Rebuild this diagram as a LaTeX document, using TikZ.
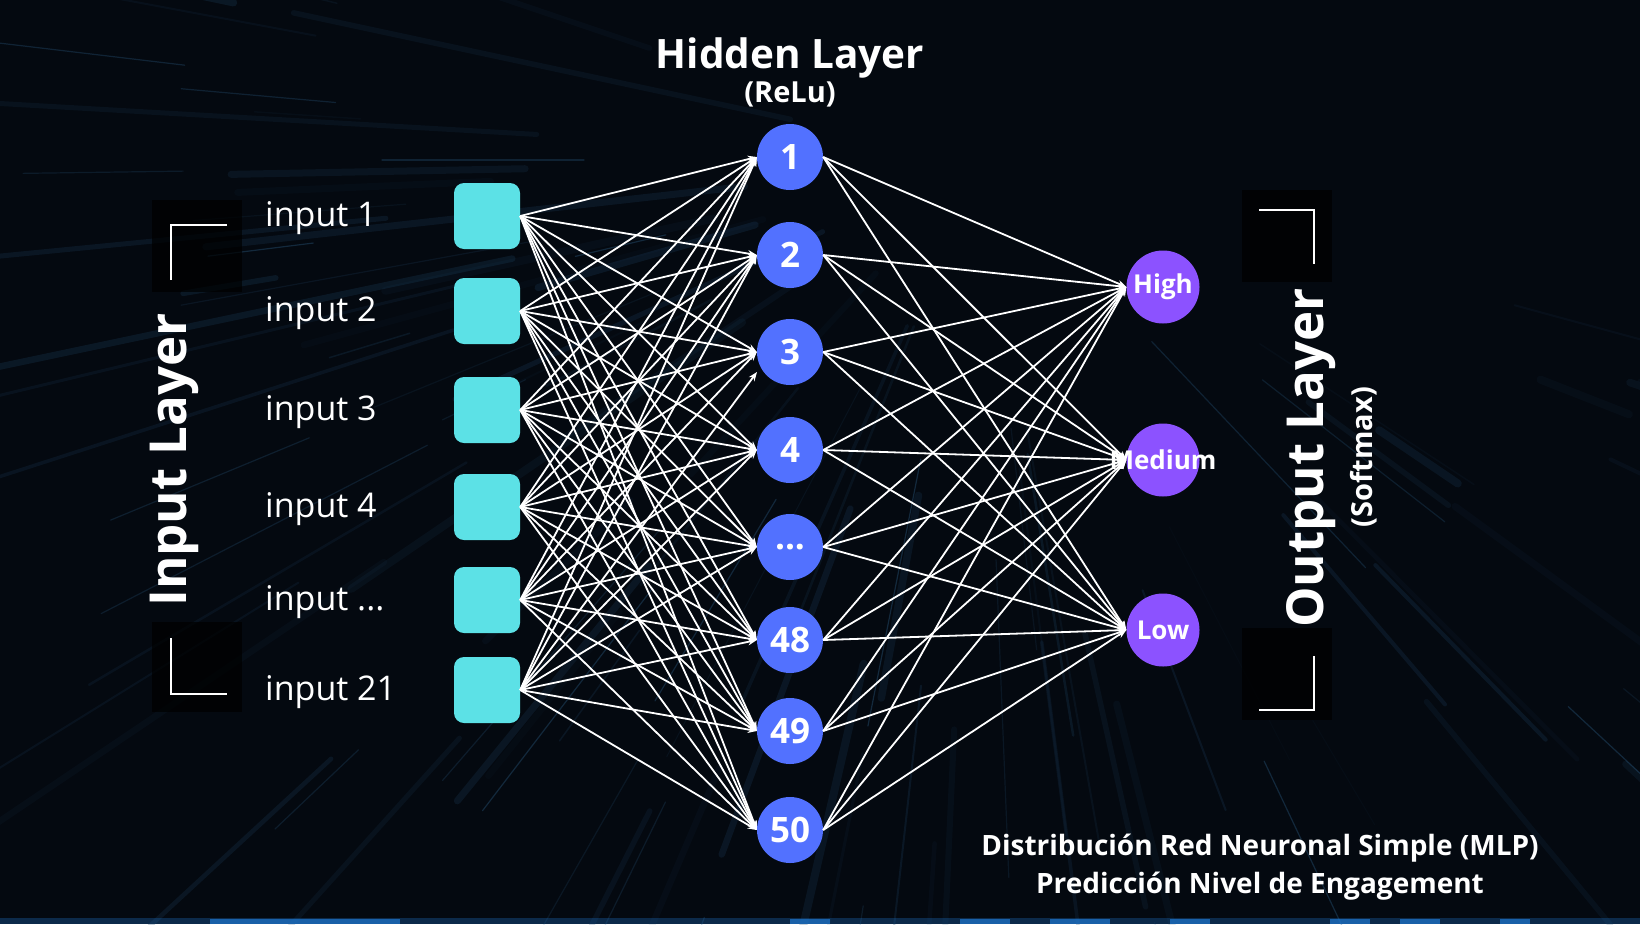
\documentclass[tikz,border=0pt]{standalone}
\usepackage{fontspec}
\setmainfont{Open Sans}
\usetikzlibrary{arrows.meta}
\definecolor{bgc}{HTML}{040910}
\definecolor{incol}{HTML}{5CE1E6}
\definecolor{hidcol}{HTML}{5271FF}
\definecolor{outcol}{HTML}{8C52FF}
\definecolor{streakA}{HTML}{1C3F5E}
\definecolor{streakB}{HTML}{2F6590}
\definecolor{glow}{HTML}{1F78D1}
\newcommand\mydots{...}
\begin{document}
\begin{tikzpicture}[x=1pt,y=-1pt,
  insq/.style={fill=incol, rounded corners=10pt, minimum width=66pt, minimum height=66pt, inner sep=0pt},
  hid/.style={circle, fill=hidcol, minimum size=66pt, inner sep=0pt, text=white, font=\bfseries\fontsize{35}{35}\selectfont},
  outn/.style={circle, fill=outcol, minimum size=73pt, inner sep=0pt},
  outlab/.style={text=white, inner sep=0pt, font=\bfseries\fontsize{26}{26}\selectfont},
  inlab/.style={text=white, font=\fontsize{34}{40}\selectfont, anchor=west, inner sep=0pt},
  conn/.style={draw=white, line width=1.8pt, -{Stealth[length=9pt,width=7pt]}},
  brk/.style={draw=white, line width=1.6pt},
  ttl/.style={text=white, inner sep=0pt},
  streak/.style={line cap=round}
]
% background
\fill[bgc] (0,0) rectangle (1640,924);
\useasboundingbox (0,0) rectangle (1640,924);
\begin{scope}
\clip (0,0) rectangle (1640,924);
\pgfmathsetseed{12}
\foreach \k in {1,...,80}{
  \pgfmathsetmacro{\ang}{random(150,2000)/10}
  \pgfmathsetmacro{\ra}{random(150,900)}
  \pgfmathsetmacro{\rb}{\ra+random(80,600)}
  \pgfmathsetmacro{\wd}{random(2,16)/2}
  \pgfmathsetmacro{\op}{random(6,28)/100}
  \draw[streak, draw=streakA, line width=\wd pt, opacity=\op, shift={(980,160)}] (\ang:\ra) -- (\ang:\rb);
}
\foreach \k in {1,...,30}{
  \pgfmathsetmacro{\ang}{random(150,2000)/10}
  \pgfmathsetmacro{\ra}{random(250,900)}
  \pgfmathsetmacro{\rb}{\ra+random(60,400)}
  \pgfmathsetmacro{\op}{random(10,35)/100}
  \draw[streak, draw=streakB, line width=1.2pt, opacity=\op, shift={(980,160)}] (\ang:\ra) -- (\ang:\rb);
}
\fill[glow, opacity=0.3] (0,918) rectangle (1640,924);
\foreach \a/\b in {210/400,790/830,960/1010,1050/1110,1170/1210,1330/1370,1400/1440,1500/1530}{
  \fill[glow, opacity=0.7] (\a,919) rectangle (\b,924);
}
\end{scope}
% dark patches behind brackets
\fill[black, opacity=0.7] (152,200) rectangle (242,292);
\fill[black, opacity=0.7] (152,622) rectangle (242,712);
\fill[black, opacity=0.7] (1242,190) rectangle (1332,282);
\fill[black, opacity=0.7] (1242,628) rectangle (1332,720);
% brackets
\draw[brk] (227,225) -- (171,225) -- (171,280);
\draw[brk] (171,638) -- (171,694) -- (227,694);
\draw[brk] (1259,210) -- (1314,210) -- (1314,264);
\draw[brk] (1314,656) -- (1314,710) -- (1259,710);
% titles
\node[ttl, rotate=90, font=\bfseries\fontsize{51}{51}\selectfont] (tin) at (174,460) {Input Layer};
\node[ttl, rotate=90, font=\bfseries\fontsize{51}{51}\selectfont] (tout) at (1311,458) {Output Layer};
\node[ttl, rotate=90, font=\bfseries\fontsize{29}{29}\selectfont] (tsoft) at (1364,457) {(Softmax)};
\node[ttl, anchor=base, font=\bfseries\fontsize{40.5}{40.5}\selectfont] (thid) at (790,68) {Hidden Layer};
\node[ttl, anchor=base, font=\bfseries\fontsize{29}{29}\selectfont] (trelu) at (790,102) {(ReLu)};
\node[ttl, anchor=base, font=\bfseries\fontsize{28}{28}\selectfont] (tb1) at (1260,855) {Distribución Red Neuronal Simple (MLP)};
\node[ttl, anchor=base, font=\bfseries\fontsize{28}{28}\selectfont] (tb2) at (1260,893) {Predicción Nivel de Engagement};
% input layer
\foreach \n/\y/\t in {1/216/input 1,2/311/input 2,3/410/input 3,4/507/input 4,5/600/input \mydots,6/690/input 21}{
  \node[insq] (i\n) at (487,\y) {};
  \node[inlab] (l\n) at (265,\y+2) {\t};
}
% hidden layer
\foreach \n/\y/\t in {1/157/1,2/255/2,3/352/3,4/450/4,5/547/\mydots,6/640/48,7/731/49,8/830/50}{
  \node[hid] (h\n) at (790,\y) {\t};
}
% output layer
\foreach \n/\y/\t in {1/287/High,2/460/Medium,3/630/Low}{
  \node[outn] (o\n) at (1163,\y) {};
  \node[outlab] (ol\n) at (o\n) {\t};
}
% connections input -> hidden
\foreach \i in {1,...,6}{
  \foreach \j in {1,...,8}{
    \ifnum\i\j=63 \else
      \draw[conn] (i\i.east) -- (h\j.west);
    \fi
  }
}
\coordinate (stray) at (757,372);
\draw[conn] (i6.east) -- (stray);
% connections hidden -> output
\foreach \j in {1,...,8}{
  \foreach \k in {1,...,3}{
    \draw[conn] (h\j.east) -- (o\k.west);
  }
}
\end{tikzpicture}
\end{document}
